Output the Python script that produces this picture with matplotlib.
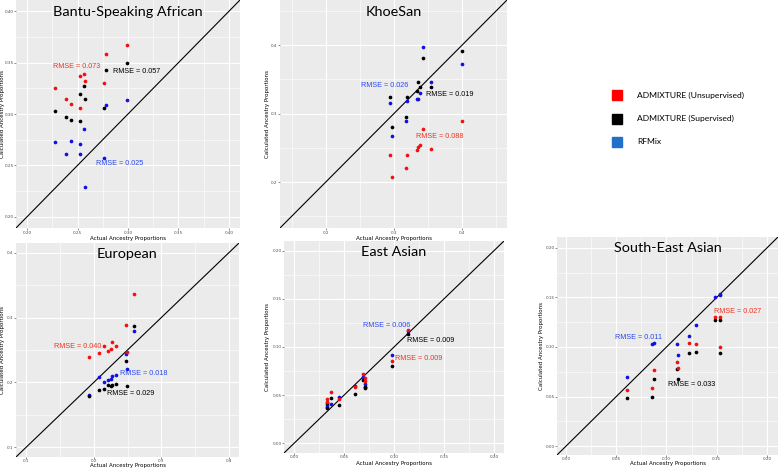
import numpy as np
import matplotlib.pyplot as plt
from matplotlib.lines import Line2D

# ====================== DATA ======================

bantu_actual = [0.228, 0.239, 0.244, 0.252, 0.252, 0.256, 0.257, 0.276, 0.278, 0.299]
bantu_unsup = [0.325, 0.315, 0.310, 0.337, 0.306, 0.339, 0.332, 0.330, 0.358, 0.367]
bantu_sup = [0.303, 0.297, 0.294, 0.319, 0.293, 0.327, 0.315, 0.306, 0.343, 0.350]
bantu_rfmix = [0.273, 0.261, 0.274, 0.271, 0.261, 0.285, 0.2285, 0.257, 0.309, 0.3135]

khoe_actual = [0.294, 0.298, 0.318, 0.320, 0.334, 0.336, 0.338, 0.343, 0.354, 0.400]
khoe_unsup = [0.240, 0.207, 0.220, 0.240, 0.247, 0.252, 0.254, 0.278, 0.249, 0.289]
khoe_sup = [0.325, 0.280, 0.295, 0.325, 0.3335, 0.3456, 0.339, 0.381, 0.339, 0.392]
khoe_rfmix = [0.316, 0.268, 0.289, 0.319, 0.321, 0.322, 0.330, 0.398, 0.3456, 0.372]

euro_actual = [0.1933, 0.2075, 0.2159, 0.2208, 0.2262, 0.2270, 0.2325, 0.2473, 0.2497, 0.2591]
euro_unsup = [0.2386, 0.2454, 0.2568, 0.2485, 0.2521, 0.2620, 0.2557, 0.2884, 0.2464, 0.3357]
euro_sup = [0.1784, 0.1883, 0.1898, 0.1966, 0.1945, 0.1961, 0.1976, 0.2324, 0.1945, 0.2864]
euro_rfmix = [0.181, 0.209, 0.2002, 0.2038, 0.2054, 0.2096, 0.2111, 0.2433, 0.2200, 0.2786]

east_actual = [0.033, 0.033, 0.037, 0.0445, 0.0605, 0.069, 0.071, 0.071, 0.098, 0.1143]
east_unsup = [0.046, 0.043, 0.053, 0.046, 0.058, 0.072, 0.068, 0.065, 0.0856, 0.118]
east_sup = [0.042, 0.037, 0.047, 0.040, 0.0515, 0.066, 0.058, 0.057, 0.0804, 0.1134]
east_rfmix = [0.040, 0.038, 0.041, 0.048, 0.0595, 0.069, 0.0615, 0.059, 0.092, 0.117]

sea_actual = [0.0605, 0.0853, 0.0879, 0.1104, 0.1110, 0.1223, 0.1296, 0.1484, 0.1537, 0.1530]
sea_unsup = [0.0567, 0.0591, 0.0763, 0.0852, 0.0785, 0.1045, 0.1031, 0.1306, 0.1306, 0.0997]
sea_sup = [0.0481, 0.0498, 0.068, 0.078, 0.0674, 0.0938, 0.0952, 0.1271, 0.1268, 0.0938]
sea_rfmix = [0.0694, 0.1031, 0.1041, 0.1031, 0.0924, 0.1107, 0.1217, 0.1509, 0.1529, 0.1533]

# RMSE per panel: (unsupervised, supervised, rfmix)
bantu_rmse = [0.073, 0.057, 0.025]
khoe_rmse = [0.088, 0.019, 0.026]
euro_rmse = [0.040, 0.029, 0.018]
east_rmse = [0.009, 0.009, 0.006]
sea_rmse = [0.027, 0.033, 0.011]

legend_labels = ["ADMIXTURE (Unsupervised)", "ADMIXTURE (Supervised)", "RFMix"]

# ====================== STYLE ======================

W, H = 778, 468
RED, BLACK, BLUE = "#f01010", "#000000", "#1010e0"
RED_TXT, BLUE_TXT = "#ee3322", "#2a48ee"
LEG_COLORS = ["#ff0000", "#000000", "#1f70c8"]

# box = panel pixels (left, top, right, bottom); ylab_x / xlab_y = label pixel positions
panels = [
    dict(title="Bantu-Speaking African", box=(16, 0, 240, 228), ylab_x=3, xlab_y=238,
         lim=(0.189, 0.411), major=np.arange(0.20, 0.401, 0.05), fmt="{:.2f}",
         data=(bantu_actual, bantu_unsup, bantu_sup, bantu_rfmix), rmse=bantu_rmse,
         pos=[(0.226, 0.346), (0.2855, 0.341), (0.2687, 0.252)]),
    dict(title="KhoeSan", box=(280, 0, 507, 228), ylab_x=267, xlab_y=238,
         lim=(0.133, 0.466), major=np.arange(0.2, 0.401, 0.1), fmt="{:.1f}",
         data=(khoe_actual, khoe_unsup, khoe_sup, khoe_rfmix), rmse=khoe_rmse,
         pos=[(0.332, 0.2665), (0.347, 0.3286), (0.2516, 0.3408)]),
    dict(title="European", box=(16, 243, 239, 457), ylab_x=3, xlab_y=465,
         lim=(0.085, 0.415), major=np.arange(0.1, 0.401, 0.1), fmt="{:.1f}",
         data=(euro_actual, euro_unsup, euro_sup, euro_rfmix), rmse=euro_rmse,
         pos=[(0.1417, 0.2557), (0.2193, 0.183), (0.2384, 0.2132)]),
    dict(title="East Asian", box=(284, 241, 504, 453), ylab_x=268, xlab_y=464,
         lim=(-0.01, 0.21), major=np.arange(0.0, 0.201, 0.05), fmt="{:.2f}",
         data=(east_actual, east_unsup, east_sup, east_rfmix), rmse=east_rmse,
         pos=[(0.101, 0.0876), (0.1133, 0.1065), (0.0688, 0.1227)]),
    dict(title="South-East Asian", box=(557, 237, 778, 455), ylab_x=541, xlab_y=464,
         lim=(-0.009, 0.211), major=np.arange(0.0, 0.201, 0.05), fmt="{:.2f}",
         data=(sea_actual, sea_unsup, sea_sup, sea_rfmix), rmse=sea_rmse,
         pos=[(0.1471, 0.1357), (0.1018, 0.0619), (0.0489, 0.110)]),
]

# ====================== PLOT ======================

fig = plt.figure(figsize=(W / 100, H / 100), dpi=100, facecolor="white")

for p in panels:
    x0, y0, x1, y1 = p["box"]
    pw, ph = x1 - x0, y1 - y0
    ax = fig.add_axes([x0 / W, 1 - y1 / H, pw / W, ph / H])
    ax.set_facecolor("#ebebeb")
    for s in ax.spines.values():
        s.set_visible(False)

    lo, hi = p["lim"]
    major = p["major"]
    step = major[1] - major[0]
    minor = np.arange(major[0] - step / 2, hi, step)
    minor = minor[(minor > lo) & (minor < hi)]

    ax.set_xlim(lo, hi)
    ax.set_ylim(lo, hi)
    ax.set_xticks(major)
    ax.set_yticks(major)
    ax.set_xticks(minor, minor=True)
    ax.set_yticks(minor, minor=True)
    ax.set_xticklabels([p["fmt"].format(v) for v in major])
    ax.set_yticklabels([p["fmt"].format(v) for v in major])
    ax.grid(which="major", color="white", linewidth=0.8)
    ax.grid(which="minor", color="white", linewidth=0.4)
    ax.set_axisbelow(True)
    ax.tick_params(which="major", labelsize=3.0, length=1.2, width=0.4,
                   color="#333333", labelcolor="#4d4d4d", pad=0.6)
    ax.tick_params(which="minor", length=0)

    ax.set_xlabel("Actual Ancestry Proportions", fontsize=4.0)
    ax.set_ylabel("Calculated Ancestry Proportions", fontsize=4.0)
    ax.xaxis.set_label_coords(0.5, (y1 - p["xlab_y"]) / ph)
    ax.yaxis.set_label_coords((p["ylab_x"] - x0) / pw, 0.5)
    ax.xaxis.label.set_va("center")
    ax.yaxis.label.set_va("center")

    ax.axline((0, 0), (1, 1), color="black", linewidth=0.8, zorder=2)

    actual, unsup, sup, rf = p["data"]
    ax.scatter(actual, rf, s=7, color=BLUE, linewidths=0, zorder=3)
    ax.scatter(actual, sup, s=7, color=BLACK, linewidths=0, zorder=3)
    ax.scatter(actual, unsup, s=7, color=RED, linewidths=0, zorder=3)

    for val, (tx, ty), col in zip(p["rmse"], p["pos"], [RED_TXT, "black", BLUE_TXT]):
        ax.text(tx, ty, f"RMSE = {val:.3f}", color=col, fontsize=5.2,
                family="Liberation Sans", ha="left", va="center", zorder=4)

    ax.text(0.5, 1 - 11.5 / ph, p["title"], transform=ax.transAxes,
            ha="center", va="center", fontsize=10.4, family="Lato")

# legend
for i, (lab, col) in enumerate(zip(legend_labels, LEG_COLORS)):
    yy = 1 - (95 + i * 23.5) / H
    fig.add_artist(Line2D([617 / W], [yy], marker="s", markersize=7.5,
                          color=col, linestyle="none"))
    fig.text(637 / W, yy, lab, fontsize=6.1, family="Lato", va="center", ha="left")

plt.savefig("out.png", dpi=100)
